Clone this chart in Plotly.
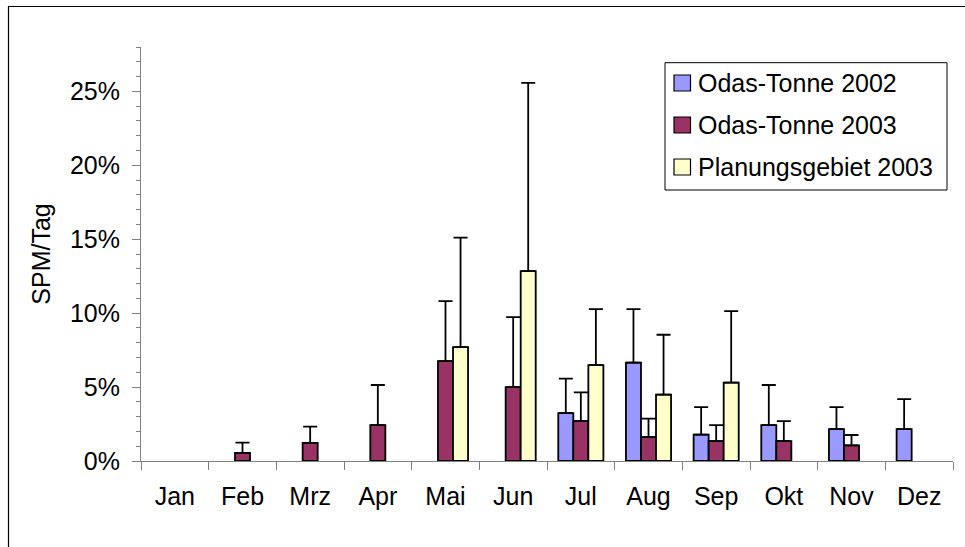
import plotly.graph_objects as go

months = ["Jan", "Feb", "Mrz", "Apr", "Mai", "Jun", "Jul", "Aug", "Sep", "Okt", "Nov", "Dez"]

names = ["Odas-Tonne 2002", "Odas-Tonne 2003", "Planungsgebiet 2003"]
colors = ["#9999FF", "#993366", "#FFFFCC"]

# values in % SPM/Tag
odas_2002 = [None, None, None, None, None, None, 3.24, 6.65, 1.78, 2.43, 2.16, 2.16]
odas_2002_err = [None, None, None, None, None, None, 2.33, 3.62, 1.87, 2.71, 1.49, 2.03]

odas_2003 = [None, 0.54, 1.22, 2.43, 6.76, 5.00, 2.70, 1.62, 1.35, 1.35, 1.06, None]
odas_2003_err = [None, 0.70, 1.10, 2.71, 4.05, 4.73, 1.94, 1.24, 1.08, 1.35, 0.70, None]

plan_2003 = [None, None, None, None, 7.70, 12.84, 6.49, 4.49, 5.30, None, None, None]
plan_2003_err = [None, None, None, None, 7.41, 12.73, 3.78, 4.05, 4.84, None, None, None]

series = [odas_2002, odas_2003, plan_2003]
errors = [odas_2002_err, odas_2003_err, plan_2003_err]

W, H = 965, 547
L, R, T, B = 141, 12, 47, 86
PW, PH = W - L - R, H - T - B

def px_x(p):
    return (p - L) / PW

def px_y(p):
    return (H - B - p) / PH

FONT = "Arial, Liberation Sans, sans-serif"
AX = "#808080"

fig = go.Figure()
for name, col, vals, err in zip(names, colors, series, errors):
    fig.add_trace(go.Bar(
        x=months, y=vals, name=name, showlegend=False,
        marker=dict(color=col, line=dict(color="black", width=1.8)),
        error_y=dict(type="data", symmetric=False, array=err,
                     arrayminus=[0 if e is not None else None for e in err],
                     color="black", thickness=1.8, width=7),
    ))

# legend (box, swatches, labels)
shapes = [
    dict(type="rect", xref="paper", yref="paper",
         x0=px_x(8.5), x1=px_x(1000), y0=px_y(600), y1=px_y(6.5),
         line=dict(color="black", width=1.2), fillcolor="rgba(0,0,0,0)", layer="below"),
    dict(type="rect", xref="paper", yref="paper",
         x0=px_x(665), x1=px_x(947), y0=px_y(190), y1=px_y(62.7),
         line=dict(color="black", width=1), fillcolor="white"),
]
annotations = []
row_y = [83, 125, 167]
for name, col, ry in zip(names, colors, row_y):
    shapes.append(dict(type="rect", xref="paper", yref="paper",
                       x0=px_x(674), x1=px_x(690.5), y0=px_y(ry + 8), y1=px_y(ry - 8),
                       line=dict(color="black", width=1.2), fillcolor=col))
    annotations.append(dict(text=name, xref="paper", yref="paper",
                            x=px_x(696), y=px_y(ry), xanchor="left", yanchor="middle",
                            showarrow=False, font=dict(family=FONT, size=25, color="black")))

fig.update_layout(
    width=W, height=H,
    margin=dict(l=L, r=R, t=T, b=B, autoexpand=False),
    paper_bgcolor="white", plot_bgcolor="white",
    barmode="group", bargap=1.5 / 4.5, bargroupgap=0,
    font=dict(family=FONT, size=25, color="black"),
    shapes=shapes, annotations=annotations,
    xaxis=dict(type="category", showline=True, linecolor=AX, linewidth=1,
               ticks="outside", tickson="boundaries", ticklen=8, tickcolor=AX, tickwidth=1,
               showgrid=False, zeroline=False,
               tickfont=dict(family=FONT, size=25, color="black"), ticklabelstandoff=13),
    yaxis=dict(range=[0, 28], tick0=0, dtick=5, ticksuffix="%",
               showline=True, linecolor=AX, linewidth=1,
               ticks="outside", ticklen=8, tickcolor=AX, tickwidth=1,
               minor=dict(dtick=1, tick0=0, ticks="outside", ticklen=4, tickcolor=AX, tickwidth=1, showgrid=False),
               showgrid=False, zeroline=False,
               tickfont=dict(family=FONT, size=25, color="black"), ticklabelstandoff=7,
               title=dict(text="SPM/Tag", font=dict(family=FONT, size=25, color="black"), standoff=12)),
)

fig.write_html("out.html",
               config={"displayModeBar": False},
               post_script="document.body.style.margin='0';document.body.style.overflow='hidden';")
